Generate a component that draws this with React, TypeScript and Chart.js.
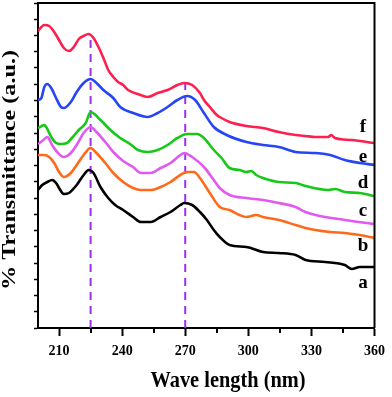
import React, { useEffect, useRef } from "react";
import { Chart, registerables } from "chart.js";

Chart.register(...registerables);

// Wavelength (nm) and transmittance (a.u.) readings per curve
const aWave = [200, 202, 204.4, 206.7, 208.6, 210, 212.3, 214.7, 218.4, 221.7, 224.1, 226.4, 229.7, 233.4, 236.7, 240.5, 245.2, 248.9, 253.6, 258.3, 263, 267.7, 269.5, 273.3, 277, 280.3, 283.6, 286.4, 291.1, 299.1, 307, 314.5, 322.5, 327.2, 336.6, 345.9, 349.2, 353, 360];
const aVal = [138, 143, 146, 148, 145, 140, 134, 135, 143, 153, 158, 155, 141, 130, 123, 118, 111, 106, 106, 111, 116, 123, 125, 123, 116, 108, 98, 91, 83, 81, 76, 75, 73, 68, 66, 63, 59, 61, 61];

const bWave = [200, 203, 205.3, 207.7, 210, 212.3, 215.6, 218.4, 221.7, 225, 227.8, 232, 235.8, 240.5, 245.2, 248.9, 253.6, 258.3, 263, 267.7, 270.9, 274.2, 277, 281.7, 286.4, 291.1, 295.8, 299.1, 303.75, 307, 314.5, 322.5, 327.2, 331.9, 338.9, 345.9, 353, 360];
const bVal = [173, 173, 171, 165, 156, 151, 155, 163, 173, 180, 175, 165, 155, 146, 140, 138, 138, 141, 146, 153, 156, 156, 150, 135, 121, 118, 113, 111, 113, 111, 108, 103, 100, 98, 96, 95, 93, 90];

const cWave = [200, 202, 204.4, 206.7, 209.1, 212.3, 215.6, 218.4, 221.7, 225, 227.8, 232, 235.8, 240.5, 245.2, 248.9, 253.6, 258.3, 263, 267.7, 269.5, 273.3, 278.9, 283.6, 286.4, 291.1, 299.1, 307, 314.5, 322.5, 327.2, 331.9, 345.9, 360];
const cVal = [184, 187, 191, 183, 176, 171, 175, 183, 195, 201, 196, 186, 176, 167, 161, 155, 155, 160, 165, 173, 175, 171, 161, 148, 140, 133, 130, 128, 125, 121, 116, 113, 108, 104];

const dWave = [200, 203, 203.9, 206.3, 208.6, 210.9, 213.75, 216.1, 219.4, 222.7, 225, 229.7, 234.4, 239.1, 243.75, 247.5, 252.2, 256.9, 261.6, 266.25, 270.9, 275.6, 278.9, 283.6, 287.3, 291.1, 295.8, 299.1, 301.4, 303.75, 307, 314.5, 322.5, 327.2, 338, 341.25, 345.9, 353, 360];
const dVal = [200, 203, 201, 191, 185, 184, 185, 190, 198, 205, 216, 208, 198, 190, 184, 178, 176, 178, 183, 190, 194, 194, 190, 178, 170, 160, 158, 156, 157, 153, 150, 146, 145, 142, 138, 139, 136, 135, 132];

const eWave = [200, 201.6, 203, 204.4, 206.3, 208.6, 210.9, 212.3, 215.6, 218.4, 221.7, 225, 227.8, 231.1, 235.8, 239.1, 245.2, 252.2, 256.9, 261.6, 266.25, 270.9, 274.7, 278.9, 283.6, 289.7, 299.1, 307, 314.5, 322.5, 331.9, 338.9, 345.9, 353, 360];
const eVal = [228, 230, 241, 244, 240, 230, 221, 220, 226, 236, 245, 249, 245, 238, 230, 221, 215, 211, 215, 221, 228, 232, 228, 215, 201, 193, 186, 183, 181, 176, 175, 173, 168, 165, 163];

const fWave = [200, 203, 205.3, 207.7, 210, 212.3, 214.7, 217, 219.4, 221.7, 224.1, 226.4, 228.75, 231.1, 233.4, 235.8, 238.1, 240.5, 242.8, 247.5, 252.2, 256.9, 261.6, 266.25, 269.5, 273.3, 277, 278.9, 281.7, 285, 286.4, 291.1, 299.1, 307, 314.5, 322.5, 327.2, 331.9, 338, 339.4, 341.25, 349.2, 360];
const fVal = [297, 303, 302, 296, 288, 280, 277, 281, 289, 292, 294, 290, 281, 270, 258, 251, 246, 243, 238, 234, 231, 235, 238, 243, 245, 243, 235, 228, 221, 213, 211, 206, 202, 200, 196, 193, 192, 191, 191, 193, 190, 188, 185];

const curveLabels = ["a", "b", "c", "d", "e", "f"];
const curveColors = ["#000000", "#ff6a1a", "#e05af0", "#18c818", "#2646f5", "#ff1f4f"];
const labelWave = 354.5;
const labelVal = [45, 82, 117, 145, 171, 201];

// Vertical reference lines (peak positions)
const peakWave = [225, 270];
const peakTop = [291, 245];

const xMajorTicks = [210, 240, 270, 300, 330, 360];
const xMinorTicks = [225, 255, 285, 315, 345];
const yTickStep = 16.25;
const yMax = 325;

const toPts = (xs: number[], ys: number[]) => xs.map((x, i) => ({ x, y: ys[i] }));

const FONT = "'Liberation Serif', 'Times New Roman', serif";

function drawFitted(ctx: CanvasRenderingContext2D, text: string, cx: number, cy: number, size: number, targetLen: number, targetH: number, rotate: boolean) {
  ctx.save();
  ctx.font = `bold ${size}px ${FONT}`;
  const w = ctx.measureText(text).width;
  ctx.translate(cx, cy);
  if (rotate) ctx.rotate(-Math.PI / 2);
  ctx.scale(targetLen / w, targetH);
  ctx.textAlign = "center";
  ctx.textBaseline = "middle";
  ctx.fillStyle = "#000";
  ctx.fillText(text, 0, 0);
  ctx.restore();
}

const decorPlugin = {
  id: "decor",
  afterDraw(chart: any) {
    const { ctx, chartArea, scales } = chart;
    const xs = scales.x;
    const ys = scales.y;
    ctx.save();
    ctx.strokeStyle = "#000";
    ctx.lineWidth = 2;
    ctx.beginPath();
    ctx.moveTo(chartArea.left, chartArea.top);
    ctx.lineTo(chartArea.right, chartArea.top);
    ctx.lineTo(chartArea.right, chartArea.bottom);
    ctx.stroke();
    xMinorTicks.forEach((v) => {
      const px = Math.round(xs.getPixelForValue(v));
      ctx.beginPath();
      ctx.moveTo(px, chartArea.bottom);
      ctx.lineTo(px, chartArea.bottom + 5);
      ctx.stroke();
    });
    ctx.fillStyle = "#000";
    ctx.font = `bold 19px ${FONT}`;
    ctx.textAlign = "center";
    ctx.textBaseline = "middle";
    curveLabels.forEach((t, i) => {
      ctx.fillText(t, xs.getPixelForValue(labelWave), ys.getPixelForValue(labelVal[i]));
    });
    ctx.restore();
    drawFitted(ctx, "% Transmittance (a.u.)", 10, 170, 18, 240, 1.05, true);
    drawFitted(ctx, "Wave length (nm)", 228, 381, 20, 155, 1.15, false);
  },
};

export default function App() {
  const ref = useRef<HTMLCanvasElement>(null);
  useEffect(() => {
    if (!ref.current) return;
    const series = [
      [aWave, aVal],
      [bWave, bVal],
      [cWave, cVal],
      [dWave, dVal],
      [eWave, eVal],
      [fWave, fVal],
    ];
    const datasets: any[] = series.map(([xs, ys], i) => ({
      label: curveLabels[i],
      data: toPts(xs, ys),
      borderColor: curveColors[i],
      borderWidth: 2.6,
      pointRadius: 0,
      cubicInterpolationMode: "monotone",
      fill: false,
    }));
    peakWave.forEach((w, i) => {
      datasets.push({
        label: "peak" + i,
        data: [
          { x: w, y: 0 },
          { x: w, y: peakTop[i] },
        ],
        borderColor: "#9d2ff0",
        borderWidth: 2,
        borderDash: [8, 6],
        pointRadius: 0,
        fill: false,
      });
    });
    const chart = new Chart(ref.current, {
      type: "line",
      data: { datasets },
      plugins: [decorPlugin],
      options: {
        animation: false,
        responsive: false,
        layout: { padding: { top: 3, right: 12, left: 0, bottom: 0 } },
        plugins: { legend: { display: false }, tooltip: { enabled: false } },
        scales: {
          x: {
            type: "linear",
            min: 200,
            max: 360,
            afterBuildTicks: (s: any) => {
              s.ticks = xMajorTicks.map((v) => ({ value: v }));
            },
            afterFit: (s: any) => {
              s.height = 69;
            },
            ticks: {
              color: "#000",
              font: { family: FONT, size: 14, weight: "bold" },
              padding: 7,
              maxRotation: 0,
              callback: (v: any) => String(v),
            },
            grid: { drawOnChartArea: false, drawTicks: true, tickLength: 8, tickWidth: 2, tickColor: "#000" },
            border: { display: true, color: "#000", width: 2 },
          },
          y: {
            type: "linear",
            min: 0,
            max: yMax,
            afterBuildTicks: (s: any) => {
              const t: any[] = [];
              for (let i = 0; i <= 20; i++) t.push({ value: i * yTickStep });
              s.ticks = t;
            },
            afterFit: (s: any) => {
              s.width = 38;
            },
            ticks: { display: false },
            grid: { drawOnChartArea: false, drawTicks: true, tickLength: 4, tickWidth: 1.5, tickColor: "#000" },
            border: { display: true, color: "#000", width: 2 },
          },
        },
      },
    });
    return () => chart.destroy();
  }, []);
  return (
    <div style={{ position: "absolute", left: 0, top: 0, width: 392, height: 397, background: "#fff" }}>
      <canvas ref={ref} width={392} height={397} style={{ width: 392, height: 397 }} />
    </div>
  );
}
